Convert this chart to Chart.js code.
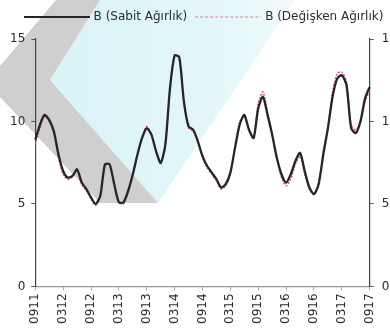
<!DOCTYPE html>
<html lang="tr">
<head>
<meta charset="utf-8">
<script src="https://cdn.jsdelivr.net/npm/chart.js@4/dist/chart.umd.min.js"></script>
<style>
  html, body { margin: 0; padding: 0; background: #fff; overflow: hidden; }
  #wrap { width: 414px; height: 329px; }
</style>
</head>
<body>
<div id="wrap"><canvas id="c" width="414" height="329"></canvas></div>
<script>
// Monthly series, 09/2011 – 09/2017 (MMYY labels)
const months = [];
for (let i = 0; i <= 72; i++) {
  const m = (8 + i) % 12 + 1;
  const y = 11 + Math.floor((8 + i) / 12);
  months.push(String(m).padStart(2, '0') + String(y).padStart(2, '0'));
}

// Semiannual labels shown on the x axis
const tickLabels = ['0911', '0312', '0912', '0313', '0913', '0314', '0914',
                    '0315', '0915', '0316', '0916', '0317', '0917'];

const yTicks = [0, 5, 10, 15];

const sabit = [
  8.9, 9.8, 10.4, 10.1, 9.4, 8.0, 7.0, 6.6, 6.7, 7.1,
  6.3, 5.9, 5.4, 5.0, 5.5, 7.4, 7.4, 6.2, 5.1, 5.1,
  5.8, 6.8, 8.0, 9.0, 9.6, 9.2, 8.2, 7.5, 8.6, 12.0,
  14.0, 13.9, 11.2, 9.7, 9.5, 8.8, 7.9, 7.3, 6.9, 6.5,
  6.0, 6.2, 6.9, 8.4, 9.8, 10.4, 9.5, 9.0, 10.8, 11.5,
  10.4, 9.2, 7.8, 6.8, 6.3, 6.8, 7.6, 8.1, 7.0, 6.0,
  5.6, 6.2, 8.0, 9.6, 11.5, 12.6, 12.8, 12.2, 9.6, 9.3,
  10.0, 11.4, 12.1
];

const degisken = [
  8.6, 9.6, 10.3, 10.0, 9.3, 7.8, 6.8, 6.5, 6.6, 7.0,
  6.2, 5.8, 5.3, 4.9, 5.5, 7.3, 7.4, 6.2, 5.1, 5.0,
  5.7, 6.8, 8.0, 9.1, 9.7, 9.2, 8.2, 7.4, 8.5, 12.0,
  14.0, 13.8, 11.1, 9.6, 9.4, 8.7, 7.8, 7.2, 6.8, 6.4,
  5.9, 6.1, 6.8, 8.5, 10.0, 10.3, 9.5, 9.1, 11.1, 11.8,
  10.6, 9.2, 7.7, 6.6, 6.1, 6.5, 7.4, 7.9, 6.8, 5.9,
  5.6, 6.3, 8.1, 9.7, 11.8, 12.9, 13.0, 12.4, 9.8, 9.5,
  10.0, 11.2, 11.9
];

// Legend swatches: a solid rule and a dashed one
function swatch(color, width, dash) {
  const cv = document.createElement('canvas');
  cv.width = 66; cv.height = 4;
  const c = cv.getContext('2d');
  c.strokeStyle = color; c.lineWidth = width; c.setLineDash(dash);
  c.beginPath(); c.moveTo(0, 2); c.lineTo(66, 2); c.stroke();
  return cv;
}

// Faint stamp shapes painted behind everything
const backdrop = {
  id: 'backdrop',
  beforeDraw(chart) {
    const ctx = chart.ctx;
    ctx.save();
    const g = ctx.createLinearGradient(60, 0, 300, 0);
    g.addColorStop(0, 'rgb(218,244,247)');
    g.addColorStop(0.7, 'rgb(228,247,249)');
    g.addColorStop(1, 'rgb(243,251,252)');
    ctx.fillStyle = g;
    ctx.beginPath();
    ctx.moveTo(100, 0); ctx.lineTo(295, 0); ctx.lineTo(158, 203); ctx.lineTo(50, 80);
    ctx.closePath(); ctx.fill();
    ctx.fillStyle = 'rgb(207,207,207)';
    ctx.beginPath();
    ctx.moveTo(56, 0); ctx.lineTo(100, 0); ctx.lineTo(50, 80); ctx.lineTo(158, 203);
    ctx.lineTo(100, 203); ctx.lineTo(0, 97); ctx.lineTo(0, 66);
    ctx.closePath(); ctx.fill();
    ctx.restore();
  }
};

// Extra room between the legend and the plot
const legendGap = {
  id: 'legendGap',
  beforeUpdate(chart) {
    const lg = chart.legend;
    if (lg && !lg._gapPatched) {
      const fit = lg.fit;
      lg.fit = function () { fit.call(this); this.height += 6; };
      lg._gapPatched = true;
    }
  }
};

const font = { family: '"DejaVu Sans", sans-serif', size: 12 };
const txt = '#2b2b2b';

const yAxis = (pos, pad) => ({
  position: pos,
  min: 0, max: 15,
  afterBuildTicks(scale) { scale.ticks = yTicks.map(v => ({ value: v })); },
  ticks: { font, color: txt, padding: pad },
  grid: { drawOnChartArea: false, tickLength: 4, color: '#555' },
  border: { color: '#444', width: 1.2 }
});

new Chart(document.getElementById('c'), {
  type: 'line',
  data: {
    labels: months,
    datasets: [
      { label: 'B (Sabit Ağırlık)', data: sabit, borderColor: '#262626',
        borderWidth: 2.3, pointRadius: 0, tension: 0.25, yAxisID: 'y',
        pointStyle: swatch('#262626', 2, []) },
      { label: 'B (Değişken Ağırlık)', data: degisken, borderColor: '#d9536a',
        borderWidth: 1.4, borderDash: [2, 1.5], pointRadius: 0, tension: 0.25, yAxisID: 'y',
        pointStyle: swatch('#eaa3ae', 1.6, [3, 2]) }
    ]
  },
  options: {
    responsive: false,
    animation: false,
    layout: { padding: { left: 4, right: 9, top: 1, bottom: 2 } },
    plugins: {
      legend: {
        labels: { usePointStyle: true, pointStyleWidth: 62, font, color: txt, padding: 10 }
      },
      tooltip: { enabled: false }
    },
    scales: {
      x: {
        grid: { drawOnChartArea: false, tickLength: 4, color: '#aaa' },
        border: { color: '#999', width: 1.2 },
        ticks: {
          autoSkip: false, maxRotation: 90, minRotation: 90, padding: 3,
          font, color: txt,
          callback(v, i) { const l = months[i]; return tickLabels.includes(l) ? l : null; }
        }
      },
      y: yAxis('left', 6),
      y2: yAxis('right', 8)
    }
  },
  plugins: [backdrop, legendGap]
});
</script>
</body>
</html>
